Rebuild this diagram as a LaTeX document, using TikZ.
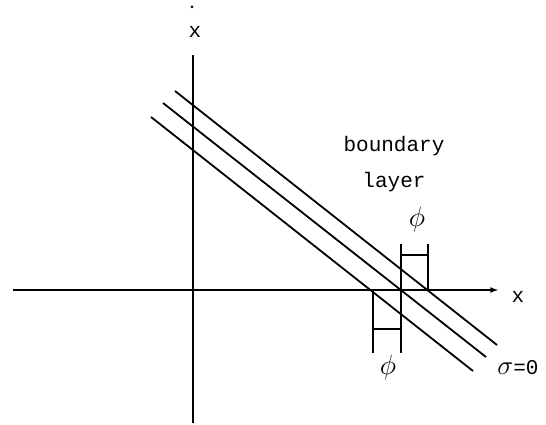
\documentclass[tikz,border=0pt]{standalone}
\usepackage{fontspec}
\setmonofont{Liberation Mono}
\usetikzlibrary{arrows, positioning}

\begin{document}
\begin{tikzpicture}[
    x=1pt, y=1pt,
    axis/.style={line width=1.6pt},
    arrow/.style={->, >=latex, line width=1.6pt},
    slope/.style={line width=1.8pt},
    bracket/.style={line width=1.4pt},
    label/.style={font=\fontsize{21}{36}\selectfont\ttfamily, inner sep=0pt},
    greek/.style={label, scale=1.35}
]
\useasboundingbox (0,0) rectangle (546,425);

% Coordinates
\coordinate (vtop) at (193,370);
\coordinate (vbot) at (193,2);
\coordinate (hleft) at (13,135);
\coordinate (hright) at (498,135);

\coordinate (topA) at (175,334);
\coordinate (topB) at (497,80);
\coordinate (midA) at (163,322);
\coordinate (midB) at (486,68);
\coordinate (botA) at (151,308);
\coordinate (botB) at (473,54);

% Axes
\draw[axis] (vtop) -- (vbot);
\draw[arrow] (hleft) -- (hright);

% Lines
\draw[slope] (topA) -- (topB);
\draw[slope] (midA) -- (midB);
\draw[slope] (botA) -- (botB);

% Brackets
\draw[bracket] (401,181) -- (401,72);
\draw[bracket] (428,181) -- (428,135);
\draw[bracket] (401,170) -- (428,170);
\draw[bracket] (373,135) -- (373,72);
\draw[bracket] (373,96) -- (401,96);

% Labels
\fill (192,418) circle (1.5pt);
\node[label] (xdot) at (195,393) {x};
\node[label] (xaxis) at (518,128) {x};
\node[label, align=center] (layer) at (394,261) {boundary\\layer};
\node[greek] (phitop) at (417,205) {$\phi$};
\node[greek] (phibot) at (388,57) {$\phi$};
\node[label] (sigma) at (518,57) {\scalebox{1.3}{$\sigma$}=0};

\end{tikzpicture}
\end{document}
